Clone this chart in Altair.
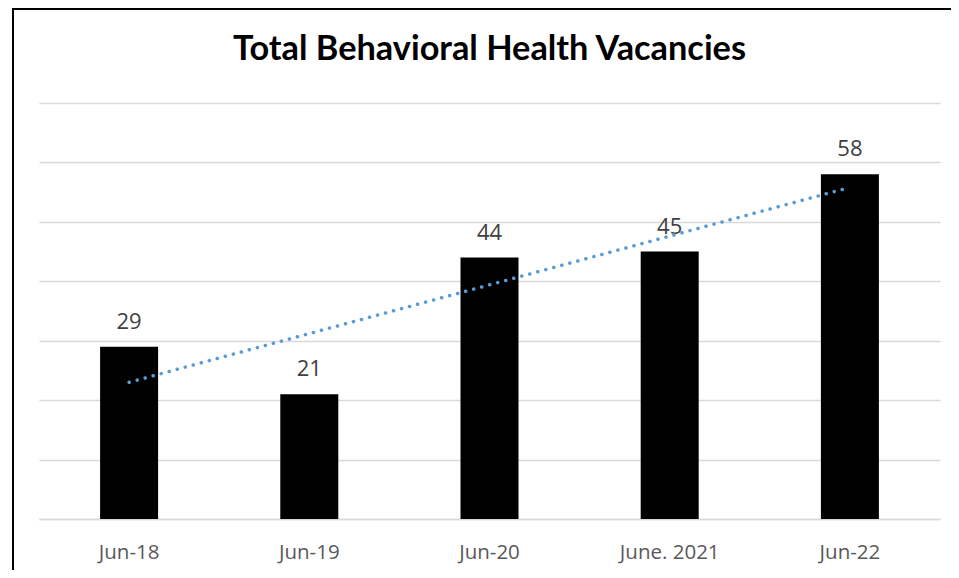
import altair as alt
import pandas as pd

title_text = "Total Behavioral Health Vacancies"
categories = ["Jun-18", "Jun-19", "Jun-20", "June. 2021", "Jun-22"]
vacancies = [29, 21, 44, 45, 58]
order = [1, 2, 3, 4, 5]

df = pd.DataFrame({"period": categories, "vacancies": vacancies, "idx": order})

W, H = 901, 416

x = alt.X("period:N", sort=categories, title=None,
          scale=alt.Scale(paddingInner=0, paddingOuter=0),
          axis=alt.Axis(labelAngle=0, labelFont="Open Sans", labelFontSize=20.5, labelColor="#595959",
                        labelBaseline="alphabetic", labelPadding=39, ticks=False, domain=True,
                        domainColor="#d9d9d9", domainWidth=1.5))
y = alt.Y("vacancies:Q", title=None,
          scale=alt.Scale(domain=[0, 70]),
          axis=alt.Axis(values=[0, 10, 20, 30, 40, 50, 60, 70], labels=False, ticks=False, domain=False,
                        grid=True, gridColor="#d9d9d9", gridWidth=1.5))

base = alt.Chart(df)

bars = base.mark_bar(color="black", size=58).encode(x=x, y=y)

labels = base.mark_text(dy=-18, baseline="alphabetic", font="Open Sans", fontSize=22, color="#404040").encode(
    x=alt.X("period:N", sort=categories), y="vacancies:Q", text="vacancies:Q")

cat_expr = "[" + ",".join("'" + c + "'" for c in categories) + "][datum.idx - 1]"
trend = base.transform_regression("idx", "vacancies", method="linear").transform_calculate(
    period=cat_expr
).mark_line(color="#5b9bd5", strokeWidth=3.5, strokeDash=[0.1, 8.2], strokeCap="round").encode(
    x=alt.X("period:N", sort=categories), y="vacancies:Q")

frame = alt.Chart(pd.DataFrame({"a": [0]})).mark_rect(
    fill="transparent", stroke="black", strokeWidth=2).encode(
    x=alt.value(-26), x2=alt.value(W + 300), y=alt.value(-94), y2=alt.value(H + 300))

title = alt.Chart(pd.DataFrame({"t": [title_text]})).mark_text(
    font="Lato", fontSize=34.3, fontWeight="bold", color="black", baseline="alphabetic", align="center"
).encode(x=alt.value(W / 2), y=alt.value(-43), text="t:N")

chart = alt.layer(bars, labels, trend, frame, title).properties(
    width=W, height=H,
    background="white",
    padding={"left": 31, "top": 95, "right": 11, "bottom": 51},
    autosize=alt.AutoSizeParams(type="none"),
).configure_view(stroke="transparent")

chart.save("out.html", embed_options={"renderer": "svg", "actions": False})
